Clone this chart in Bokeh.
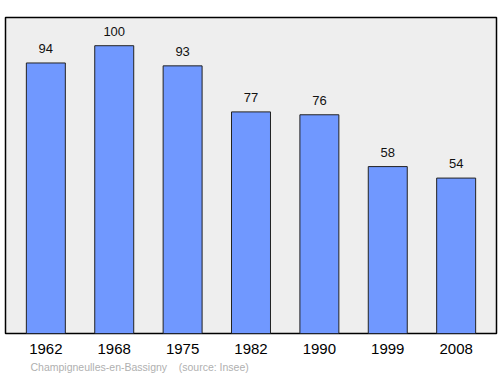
from bokeh.plotting import figure
from bokeh.models import ColumnDataSource, FixedTicker, Range1d, Title
from bokeh.core.properties import value
from bokeh.embed import file_html
from bokeh.resources import INLINE

years = ["1962", "1968", "1975", "1982", "1990", "1999", "2008"]
population = [94, 100, 93, 77, 76, 58, 54]
source_text = "Champigneulles-en-Bassigny\u00a0\u00a0\u00a0\u00a0(source: Insee)"

xs = list(range(len(years)))
src = ColumnDataSource(dict(x=xs, pop=population, lab=[str(v) for v in population]))

p = figure(width=500, height=374, output_backend="svg", toolbar_location=None,
           x_range=Range1d(-0.59, 6.59), y_range=Range1d(0, 109.8),
           min_border_left=5, min_border_right=4, min_border_top=17, min_border_bottom=19)
p.background_fill_color = "#eeeeee"
p.border_fill_color = "white"
p.outline_line_color = "black"
p.outline_line_width = 1.5
p.grid.visible = False
p.yaxis.visible = False

p.vbar(x="x", top="pop", width=0.57, source=src, fill_color="#7098ff",
       line_color="#222222", line_width=1)
p.text(x="x", y="pop", text="lab", source=src, text_align="center",
       text_baseline="bottom", y_offset=-10, text_font_size="13px",
       text_font=value("Liberation Sans"), text_color="#111111")

ax = p.xaxis[0]
ax.ticker = FixedTicker(ticks=xs)
ax.major_label_overrides = {i: y for i, y in enumerate(years)}
ax.axis_line_color = None
ax.major_tick_line_color = None
ax.minor_tick_line_color = None
ax.major_label_standoff = 4
ax.major_label_text_font_size = "15px"
ax.major_label_text_font = "Liberation Sans"
ax.major_label_text_color = "black"

t = Title(text=source_text, align="left", offset=25, text_font_size="10.5px",
          text_font="Liberation Sans", text_color="#b0b0b0", text_font_style="normal",
          standoff=4)
p.add_layout(t, "below")

open("out.html", "w").write(file_html(p, INLINE))
